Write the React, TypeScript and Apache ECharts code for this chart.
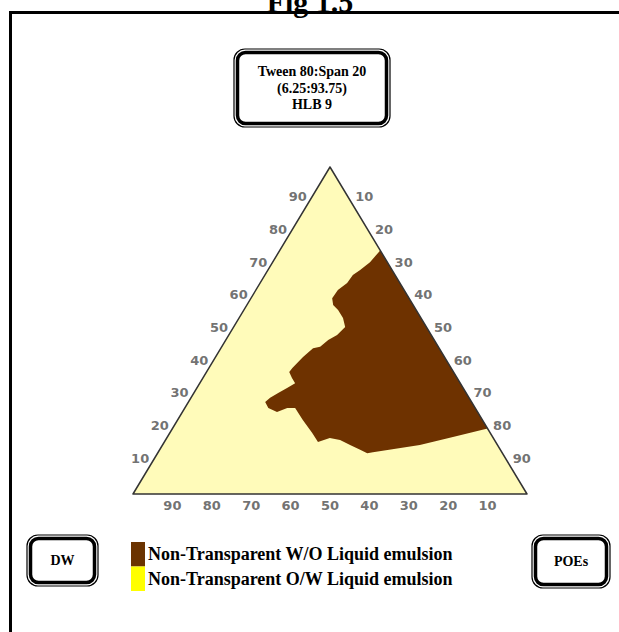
import { useEffect, useRef } from "react";
import * as echarts from "echarts";

// Axis tick labels (percent)
const tickValues = [10, 20, 30, 40, 50, 60, 70, 80, 90];

// Triangle corners as compositions: apex component (Oil) and POEs (%), DW = rest
const triOil = [0, 0, 100];
const triPoes = [0, 100, 0];

// Boundary of the Non-Transparent W/O region (Oil %, POEs %)
const woOil = [
  74.5, 70.9, 68.5, 67.0, 64.5, 62.4, 59.9, 57.8, 56.3, 53.8, 51.1, 48.6, 47.1, 45.0,
  44.6, 41.9, 38.5, 37.3, 35.5, 33.9, 32.4, 30.9, 29.4, 28.1, 26.3, 25.1, 26.3, 26.3,
  22.6, 18.7, 15.9, 17.1, 16.5, 15.0, 13.5, 12.5, 12.8, 15.0, 17.4, 20,
];
const woPoes = [
  25.5, 24.7, 23.4, 22.3, 22.1, 20.8, 20.6, 21.9, 23.9, 26.4, 28.3, 27.5, 26.0, 25.0,
  23.4, 22.2, 21.2, 21.0, 22.6, 24.2, 22.9, 21.4, 20.1, 19.5, 21.2, 24.0, 26.0, 28.0,
  31.8, 36.1, 39.0, 41.4, 44.3, 47.6, 50.9, 53.2, 54.5, 65.3, 72.5, 80,
];

const seriesWO = "Non-Transparent W/O Liquid emulsion";
const seriesOW = "Non-Transparent O/W Liquid emulsion";

const toXY = (oil: number, poes: number) => [poes + oil / 2, oil];

const SERIF = '"Liberation Serif", "Times New Roman", serif';

function dblBox(x: number, y: number, w: number, h: number, text: string, fontSize: number, lineHeight: number) {
  return {
    type: "group",
    x,
    y,
    children: [
      {
        type: "rect",
        shape: { x: 0, y: 0, width: w, height: h, r: 11 },
        style: { fill: "#fff", stroke: "#000", lineWidth: 1.2 },
      },
      {
        type: "rect",
        shape: { x: 3.5, y: 3.5, width: w - 7, height: h - 7, r: 8 },
        style: { fill: "#fff", stroke: "#000", lineWidth: 3.5 },
      },
      {
        type: "text",
        x: w / 2,
        y: h / 2,
        style: {
          text,
          fontFamily: SERIF,
          fontWeight: "bold",
          fontSize,
          lineHeight,
          fill: "#000",
          align: "center",
          verticalAlign: "middle",
        },
      },
    ],
  };
}

export default function App() {
  const ref = useRef<HTMLDivElement>(null);

  useEffect(() => {
    document.body.style.margin = "0";
    if (!ref.current) return;
    const chart = echarts.init(ref.current, null, { renderer: "svg" });

    const polygonSeries = (name: string, oil: number[], poes: number[], fill: string, stroke: string | null, lw: number) => ({
      type: "custom",
      name,
      coordinateSystem: "cartesian2d",
      silent: true,
      data: [[0, 0]],
      renderItem: (_params: any, api: any) => {
        const points = oil.map((o, i) => api.coord(toXY(o, poes[i])));
        return {
          type: "polygon",
          shape: { points },
          style: stroke
            ? { fill: "none", stroke, lineWidth: lw, lineJoin: "round" }
            : { fill },
        };
      },
    });

    const labelStyle = {
      show: true,
      color: "#4d4d4d",
      fontFamily: "'DejaVu Sans', sans-serif",
      fontWeight: "bold",
      fontSize: 13,
      formatter: (p: any) => String(p.value[2]),
    };

    const tickSeries = (data: number[][], position: string, distance: number, offset: number[]) => ({
      type: "scatter",
      silent: true,
      symbolSize: 1,
      itemStyle: { color: "rgba(0,0,0,0)" },
      data,
      label: { ...labelStyle, position, distance, offset },
      z: 5,
    });

    chart.setOption({
      animation: false,
      backgroundColor: "#fff",
      grid: { left: 133, right: 92, top: 167, bottom: 138 },
      xAxis: { type: "value", min: 0, max: 100, show: false },
      yAxis: { type: "value", min: 0, max: 100, show: false },
      legend: {
        left: 131,
        top: 542,
        padding: 0,
        orient: "vertical",
        icon: "rect",
        itemWidth: 14,
        itemHeight: 24.5,
        itemGap: 0,
        selectedMode: false,
        textStyle: { fontFamily: SERIF, fontWeight: "bold", fontSize: 18, color: "#000", padding: [0, 0, 0, -2] },
        data: [
          { name: seriesWO, itemStyle: { color: "#6B3300" } },
          { name: seriesOW, itemStyle: { color: "#FFFF00" } },
        ],
      },
      series: [
        polygonSeries(seriesOW, triOil, triPoes, "#FFFBBA", null, 0),
        polygonSeries(seriesWO, woOil, woPoes, "#6E3200", null, 0),
        polygonSeries("edges", triOil, triPoes, "none", "#333", 1.5),
        tickSeries(tickValues.map((v) => [...toXY(v, 0), v]), "left", 3, [0, -3]),
        tickSeries(tickValues.map((v) => [...toXY(100 - v, v), v]), "right", 5, [0, -3]),
        tickSeries(tickValues.map((v) => [...toXY(0, 100 - v), v]), "bottom", 4, [0, 0]),
      ],
      graphic: [
        {
          type: "rect",
          shape: { x: 10.5, y: 12.5, width: 800, height: 800 },
          style: { fill: "none", stroke: "#000", lineWidth: 3 },
        },
        {
          type: "text",
          x: 310,
          y: 1,
          z: -1,
          style: {
            text: "Fig 1.5",
            fontFamily: SERIF,
            fontWeight: "bold",
            fontSize: 30,
            fill: "#000",
            align: "center",
            verticalAlign: "middle",
          },
        },
        dblBox(234, 49, 156, 78, "Tween 80:Span 20\n(6.25:93.75)\nHLB 9", 14, 16.5),
        dblBox(27, 535, 71, 51, "DW", 14, 16),
        dblBox(532, 535, 78, 53, "POEs", 14, 16),
      ],
    });

    return () => chart.dispose();
  }, []);

  return (
    <div
      ref={ref}
      style={{ position: "absolute", left: 0, top: 0, width: 619, height: 632 }}
    />
  );
}
